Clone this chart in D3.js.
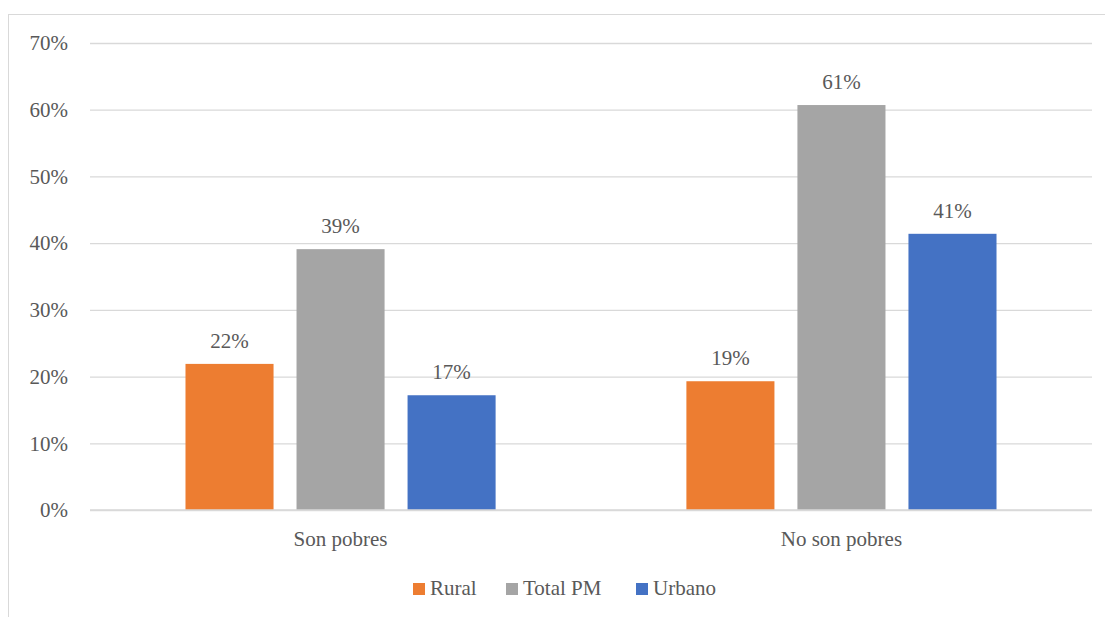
<!DOCTYPE html>
<html>
<head>
<meta charset="utf-8">
<script src="https://d3js.org/d3.v7.min.js"></script>
<style>
  body { margin: 0; background: #fff; }
</style>
</head>
<body>
<svg width="1105" height="617"></svg>
<script>
var svg = d3.select("svg"),
  width = +svg.attr("width"),
  height = +svg.attr("height");

// Data
var categories = ["Son pobres", "No son pobres"];
var series = ["Rural", "Total PM", "Urbano"];
var rural = [0.219, 0.193];
var totalPM = [0.391, 0.607];
var urbano = [0.172, 0.414];
var valueLabels = [["22%", "39%", "17%"], ["19%", "61%", "41%"]];
var yTicks = [0, 0.1, 0.2, 0.3, 0.4, 0.5, 0.6, 0.7];
var colors = ["#ED7D31", "#A5A5A5", "#4472C4"];

var seriesValues = [rural, totalPM, urbano];
var serif = "Times New Roman";
var textColor = "#595959";

// chart border
svg.append("rect")
  .attr("x", 8.5).attr("y", 14.5)
  .attr("width", 1110).attr("height", 620)
  .attr("fill", "none")
  .attr("stroke", "#d9d9d9")
  .attr("stroke-width", 1);

var plot = { left: 90, right: 1092, top: 43, bottom: 510 };

var x0 = d3.scaleBand()
  .domain(categories)
  .range([plot.left, plot.right])
  .paddingInner(0.335)
  .paddingOuter(0.1677);

var x1 = d3.scaleBand()
  .domain(series)
  .range([0, x0.bandwidth()])
  .paddingInner(0.207)
  .paddingOuter(0.1035);

var y = d3.scaleLinear()
  .domain([0, 0.7])
  .range([plot.bottom, plot.top]);

// gridlines + y labels
var yAxis = d3.axisLeft(y)
  .tickValues(yTicks)
  .tickFormat(d3.format(".0%"))
  .tickSize(-(plot.right - plot.left))
  .tickPadding(22);

var gy = svg.append("g")
  .attr("transform", "translate(" + plot.left + ",0)")
  .call(yAxis)
  .attr("font-family", serif)
  .attr("font-size", 21);
gy.select(".domain").remove();
gy.selectAll("line").attr("stroke", "#d9d9d9").attr("stroke-width", 1.3);
gy.selectAll("text").attr("fill", textColor);

// bars
var groups = svg.append("g").selectAll("g")
  .data(categories)
  .enter().append("g")
  .attr("transform", function(d) { return "translate(" + x0(d) + ",0)"; });

groups.selectAll("rect")
  .data(function(d, i) {
    return series.map(function(s, j) {
      return { s: s, v: seriesValues[j][i], c: colors[j] };
    });
  })
  .enter().append("rect")
  .attr("x", function(d) { return x1(d.s); })
  .attr("y", function(d) { return y(d.v); })
  .attr("width", x1.bandwidth())
  .attr("height", function(d) { return y(0) - y(d.v); })
  .attr("fill", function(d) { return d.c; });

groups.selectAll("text.val")
  .data(function(d, i) {
    return series.map(function(s, j) {
      return { s: s, v: seriesValues[j][i], label: valueLabels[i][j] };
    });
  })
  .enter().append("text")
  .attr("class", "val")
  .attr("x", function(d) { return x1(d.s) + x1.bandwidth() / 2; })
  .attr("y", function(d) { return y(d.v) - 16; })
  .attr("text-anchor", "middle")
  .attr("font-family", serif)
  .attr("font-size", 21)
  .attr("fill", textColor)
  .text(function(d) { return d.label; });

// x axis line
svg.append("line")
  .attr("x1", plot.left).attr("x2", plot.right)
  .attr("y1", y(0)).attr("y2", y(0))
  .attr("stroke", "#d9d9d9").attr("stroke-width", 1.3);

// category labels
svg.append("g").selectAll("text")
  .data(categories)
  .enter().append("text")
  .attr("x", function(d) { return x0(d) + x0.bandwidth() / 2; })
  .attr("y", 546)
  .attr("text-anchor", "middle")
  .attr("font-family", serif)
  .attr("font-size", 21)
  .attr("fill", textColor)
  .text(function(d) { return d; });

// legend
var legendX = [413, 506, 636];
var legend = svg.append("g").selectAll("g")
  .data(series)
  .enter().append("g")
  .attr("transform", function(d, i) { return "translate(" + legendX[i] + ",583)"; });
legend.append("rect")
  .attr("width", 12).attr("height", 12)
  .attr("fill", function(d, i) { return colors[i]; });
legend.append("text")
  .attr("x", 17).attr("y", 12)
  .attr("font-family", serif)
  .attr("font-size", 21)
  .attr("fill", textColor)
  .text(function(d) { return d; });
</script>
</body>
</html>
